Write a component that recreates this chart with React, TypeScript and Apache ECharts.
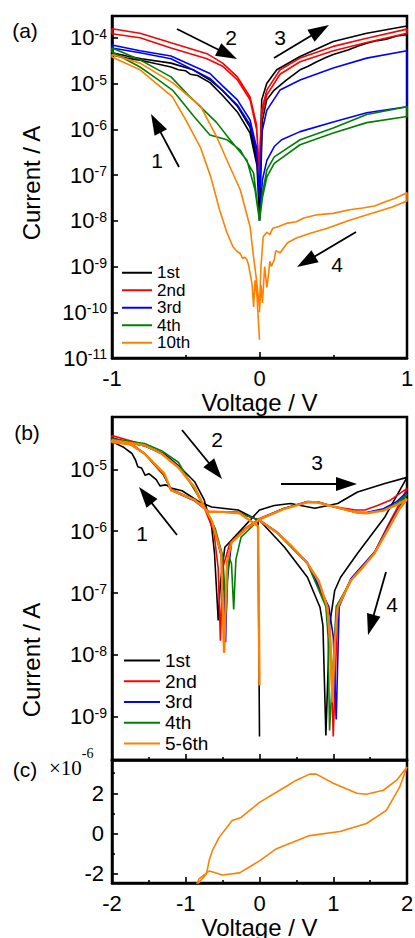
import React, { useEffect, useRef } from 'react';
import * as echarts from 'echarts';

const FONT = "'Liberation Sans', Arial, Helvetica, sans-serif";
const SERIF = "'Liberation Serif', 'Times New Roman', serif";

// ---------- Panel (a): voltage (V), current (A), in sweep order ----------
const a1st: [number, number][] = [
  [0, 1e-8], [-0.017, 1.6e-7], [-0.064, 8.3e-7], [-0.15, 2.4e-6], [-0.25, 5.5e-6], [-0.336, 1.05e-5],
  [-0.42, 1.5e-5], [-0.47, 1.6e-5], [-0.5, 1.9e-5], [-0.55, 2.0e-5], [-0.6, 2.3e-5], [-0.7, 2.7e-5],
  [-0.8, 3.2e-5], [-0.9, 3.6e-5], [-1, 4.2e-5],
  [-1, 4.7e-5], [-0.9, 4.0e-5], [-0.8, 3.5e-5], [-0.6, 2.8e-5], [-0.45, 2.0e-5], [-0.336, 1.2e-5],
  [-0.25, 7e-6], [-0.15, 3.2e-6], [-0.064, 1.1e-6], [-0.02, 2.5e-7], [0, 1.6e-8],
  [0.005, 3.2e-7], [0.015, 4.4e-6], [0.049, 1.0e-5], [0.117, 2.0e-5], [0.275, 3.9e-5], [0.5, 8.3e-5],
  [0.727, 1.26e-4], [1, 1.82e-4],
  [1, 1.17e-4], [0.93, 1.1e-4], [0.86, 9.3e-5], [0.8, 8.7e-5], [0.727, 7.6e-5], [0.67, 6.6e-5],
  [0.6, 5.4e-5], [0.5, 4.3e-5], [0.45, 3.7e-5], [0.388, 3.0e-5], [0.33, 2.4e-5], [0.275, 2.0e-5],
  [0.184, 1.2e-5], [0.1, 7.2e-6], [0.049, 4.4e-6], [0.02, 1.6e-6], [0, 1e-8],
];
const a2nd: [number, number][] = [
  [0, 1e-7], [-0.02, 1e-6], [-0.064, 4.4e-6], [-0.15, 1.2e-5], [-0.25, 2.4e-5], [-0.356, 3.5e-5],
  [-0.6, 6e-5], [-0.81, 1e-4], [-1, 1.23e-4],
  [-1, 1.58e-4], [-0.81, 1.26e-4], [-0.6, 7.8e-5], [-0.356, 4.5e-5], [-0.25, 2.8e-5], [-0.15, 1.4e-5],
  [-0.064, 5.1e-6], [-0.02, 1.26e-6], [0, 1e-7],
  [0.005, 4e-7], [0.015, 2.6e-6], [0.049, 7.2e-6], [0.139, 2.0e-5], [0.275, 3.6e-5], [0.5, 6.5e-5],
  [0.727, 9.8e-5], [1, 1.55e-4],
  [1, 1.26e-4], [0.727, 7.9e-5], [0.5, 5.2e-5], [0.275, 3.0e-5], [0.139, 1.6e-5], [0.049, 5.6e-6],
  [0.015, 2e-6], [0, 1e-7],
];
const a3rd: [number, number][] = [
  [0, 3.2e-8], [-0.02, 3.2e-7], [-0.064, 1.26e-6], [-0.15, 3.4e-6], [-0.25, 7e-6], [-0.336, 1.3e-5],
  [-0.6, 3.5e-5], [-0.81, 4.7e-5], [-1, 6e-5],
  [-1, 7e-5], [-0.81, 5.2e-5], [-0.6, 4e-5], [-0.336, 1.66e-5], [-0.25, 8.9e-6], [-0.15, 4.4e-6],
  [-0.064, 1.6e-6], [-0.02, 4e-7], [0, 3.2e-8],
  [0.005, 1e-7], [0.015, 8.3e-7], [0.049, 2.6e-6], [0.139, 7.2e-6], [0.275, 1.2e-5], [0.5, 2.2e-5],
  [0.727, 3.6e-5], [1, 5.2e-5],
  [1, 3.1e-6], [0.727, 2.3e-6], [0.5, 1.45e-6], [0.275, 8.9e-7], [0.15, 5.9e-7], [0.1, 4.2e-7],
  [0.05, 2.1e-7], [0.02, 7.9e-8], [0, 1e-8],
];
const a4th: [number, number][] = [
  [0, 1e-8], [-0.04, 1.1e-7], [-0.13, 3.5e-7], [-0.22, 5.9e-7], [-0.336, 7.5e-7], [-0.45, 2.0e-6],
  [-0.5, 3.2e-6], [-0.59, 7.2e-6], [-0.7, 1.3e-5], [-0.81, 2.3e-5], [-1, 4.9e-5],
  [-1, 6e-5], [-0.81, 3.3e-5], [-0.6, 1.4e-5], [-0.47, 5.1e-6], [-0.29, 1.4e-6], [-0.2, 5.9e-7],
  [-0.085, 2.1e-7], [-0.03, 4.7e-8], [0, 1e-8],
  [0.02, 4e-8], [0.05, 1.3e-7], [0.1, 2.5e-7], [0.275, 5.9e-7], [0.5, 1.07e-6], [0.727, 2.1e-6], [1, 3.1e-6],
  [1, 1.9e-6], [0.727, 1.4e-6], [0.5, 8.3e-7], [0.275, 4.6e-7], [0.1, 1.8e-7], [0.05, 9.1e-8],
  [0.02, 3.2e-8], [0, 1e-8],
];
const a10th: [number, number][] = [
  [0, 2.5e-11], [-0.017, 2.2e-10], [-0.03, 5e-10], [-0.04, 1.3e-10], [-0.05, 4e-10], [-0.064, 7.2e-10],
  [-0.075, 1.1e-9], [-0.085, 1.4e-9], [-0.1, 1.6e-9], [-0.115, 1.5e-9], [-0.13, 1.9e-9], [-0.15, 2.1e-9],
  [-0.18, 2.7e-9], [-0.22, 5.4e-9], [-0.27, 1.7e-8], [-0.33, 9e-8], [-0.4, 4e-7], [-0.5, 1.6e-6],
  [-0.59, 5.1e-6], [-0.81, 2e-5], [-1, 3.8e-5],
  [-1, 4.3e-5], [-0.81, 2.8e-5], [-0.59, 1.05e-5], [-0.4, 3.2e-6], [-0.29, 6.8e-7], [-0.2, 1.5e-7],
  [-0.13, 4.7e-8], [-0.064, 7.4e-9], [-0.04, 1.6e-9], [-0.02, 5e-10], [0, 1.3e-10],
  [0.01, 1e-9], [0.025, 4.5e-9], [0.05, 5.6e-9], [0.07, 5e-9], [0.09, 6.9e-9], [0.13, 7.5e-9],
  [0.19, 8.9e-9], [0.25, 9.5e-9], [0.3, 1.15e-8], [0.39, 1.35e-8], [0.5, 1.45e-8], [0.61, 1.74e-8],
  [0.7, 1.9e-8], [0.78, 2.1e-8], [0.84, 2.5e-8], [0.92, 3.1e-8], [1, 4.1e-8],
  [1, 2.7e-8], [0.9, 2.0e-8], [0.73, 1.35e-8], [0.6, 1.0e-8], [0.46, 6.9e-9], [0.35, 5.4e-9],
  [0.25, 4.2e-9], [0.19, 3.3e-9], [0.14, 2e-9], [0.11, 2.2e-9], [0.1, 1.4e-9], [0.08, 1e-9],
  [0.07, 1.3e-9], [0.06, 6.3e-10], [0.05, 3.5e-10], [0.035, 1e-9], [0.02, 1.6e-10], [0.01, 4e-10], [0, 1e-10],
];

// ---------- Panel (b): voltage (V), current (A) ----------
const b1st: [number, number][] = [
  [0, 4.8e-10], [-0.02, 1.5e-6], [-0.29, 2.2e-6], [-0.65, 2.45e-6], [-0.82, 3.0e-6], [-1.05, 4.5e-6],
  [-1.2, 5e-6], [-1.27, 5.6e-6], [-1.35, 5.4e-6], [-1.4, 6.8e-6], [-1.5, 8.5e-6], [-1.55, 8e-6],
  [-1.6, 1.05e-5], [-1.65, 1.1e-5], [-1.68, 1.4e-5], [-1.73, 1.8e-5], [-1.85, 2.3e-5], [-2, 2.8e-5],
  [-2, 3e-5], [-1.56, 2.4e-5], [-1.3, 1.8e-5], [-1.1, 1.15e-5], [-0.88, 6.3e-6], [-0.75, 3.2e-6],
  [-0.65, 1.2e-6], [-0.61, 4.4e-7], [-0.58, 1e-7], [-0.56, 3.6e-8], [-0.53, 1.5e-7], [-0.47, 5.5e-7],
  [-0.29, 9.3e-7], [0, 2.2e-6],
  [0.2, 2.6e-6], [0.42, 2.8e-6], [0.75, 2.35e-6], [1.06, 2.8e-6], [1.33, 4.3e-6], [1.7, 5.9e-6], [2, 7.4e-6],
  [1.7, 1.7e-6], [1.33, 4.4e-7], [1.1, 1.8e-7], [1.02, 1.1e-7], [0.95, 3e-8], [0.9, 5e-10], [0.86, 3e-8],
  [0.82, 5.9e-8], [0.65, 1.8e-7], [0.34, 5.5e-7], [0, 1.5e-6],
];
const b2nd: [number, number][] = [
  [0, 1.5e-6], [-0.29, 2.0e-6], [-0.69, 2.1e-6], [-0.88, 3.2e-6], [-1.2, 4.8e-6], [-1.3, 8e-6],
  [-1.56, 1.8e-5], [-1.74, 2.6e-5], [-2, 3.2e-5],
  [-2, 3.5e-5], [-1.8, 3.0e-5], [-1.56, 2.5e-5], [-1.33, 1.8e-5], [-1.1, 1.1e-5], [-0.88, 5e-6],
  [-0.75, 2.4e-6], [-0.62, 1e-6], [-0.56, 2.5e-7], [-0.53, 1.7e-8], [-0.5, 2.5e-7], [-0.4, 6.5e-7],
  [-0.2, 1.1e-6], [0, 1.6e-6],
  [0.32, 2.3e-6], [0.65, 2.9e-6], [0.8, 2.9e-6], [1, 2.5e-6], [1.3, 2.2e-6], [1.43, 2.2e-6],
  [1.6, 2.6e-6], [1.78, 3.2e-6], [2, 4.9e-6],
  [1.9, 2.8e-6], [1.75, 1.3e-6], [1.56, 4.6e-7], [1.24, 1.7e-7], [1.06, 6e-8], [1.0, 4.8e-10],
  [0.96, 2e-8], [0.92, 6e-8], [0.65, 3e-7], [0.245, 9.3e-7], [0, 1.5e-6],
];
const b3rd: [number, number][] = [
  [0, 1.5e-6], [-0.29, 2.0e-6], [-0.69, 2.05e-6], [-0.88, 3.1e-6], [-1.2, 4.6e-6], [-1.3, 8.5e-6],
  [-1.56, 1.8e-5], [-1.74, 2.5e-5], [-2, 3e-5],
  [-2, 3.2e-5], [-1.56, 2.4e-5], [-1.33, 1.8e-5], [-1.1, 1.1e-5], [-0.88, 5.1e-6], [-0.75, 2.5e-6],
  [-0.62, 1.2e-6], [-0.52, 4e-7], [-0.48, 1e-7], [-0.46, 1.6e-8], [-0.44, 1.5e-7], [-0.38, 6.5e-7],
  [-0.2, 1.05e-6], [0, 1.55e-6],
  [0.32, 2.3e-6], [0.65, 3.0e-6], [0.8, 2.95e-6], [1, 2.5e-6], [1.32, 2.0e-6], [1.45, 2.0e-6],
  [1.68, 2.3e-6], [1.86, 3e-6], [2, 4.3e-6],
  [1.9, 2.5e-6], [1.75, 1.2e-6], [1.56, 4.6e-7], [1.24, 1.7e-7], [1.08, 6e-8], [1.04, 9e-10],
  [1.0, 2e-8], [0.94, 6e-8], [0.65, 3.1e-7], [0.245, 9.5e-7], [0, 1.5e-6],
];
const b4th: [number, number][] = [
  [0, 1.5e-6], [-0.29, 2.0e-6], [-0.69, 2.05e-6], [-0.88, 3.2e-6], [-1.2, 4.7e-6], [-1.3, 8.2e-6],
  [-1.56, 1.8e-5], [-1.74, 2.5e-5], [-2, 3e-5],
  [-2, 3.1e-5], [-1.56, 2.6e-5], [-1.33, 2e-5], [-1.1, 1.3e-5], [-0.96, 6.6e-6], [-0.8, 3.2e-6],
  [-0.6, 1.1e-6], [-0.5, 4e-7], [-0.45, 5e-8], [-0.42, 4e-7], [-0.38, 3e-7], [-0.35, 5.4e-8],
  [-0.32, 3.5e-7], [-0.25, 8e-7], [0, 1.55e-6],
  [0.32, 2.3e-6], [0.65, 2.95e-6], [0.8, 2.9e-6], [1, 2.5e-6], [1.32, 2.0e-6], [1.45, 1.95e-6],
  [1.68, 2.2e-6], [1.86, 2.8e-6], [2, 4e-6],
  [1.9, 2.4e-6], [1.75, 1.15e-6], [1.56, 4.4e-7], [1.24, 1.6e-7], [1.04, 6e-8], [0.95, 6e-10],
  [0.93, 2e-8], [0.9, 6e-8], [0.65, 3e-7], [0.245, 9.3e-7], [0, 1.5e-6],
];
const b56th: [number, number][] = [
  [0, 3.2e-9], [-0.02, 1.2e-6], [-0.27, 1.95e-6], [-0.5, 2.05e-6], [-0.69, 2.05e-6], [-0.88, 3.2e-6],
  [-1.2, 4.6e-6], [-1.29, 8.5e-6], [-1.56, 1.8e-5], [-1.74, 2.5e-5], [-2, 2.75e-5],
  [-2, 2.95e-5], [-1.56, 2.45e-5], [-1.33, 1.8e-5], [-1.1, 1.07e-5], [-0.88, 5.1e-6], [-0.75, 2.45e-6],
  [-0.65, 1.5e-6], [-0.52, 4.4e-7], [-0.48, 1.07e-8], [-0.44, 3.2e-7], [-0.38, 6.5e-7], [-0.2, 1.05e-6],
  [0, 1.55e-6],
  [0.32, 2.25e-6], [0.65, 2.95e-6], [0.77, 2.95e-6], [1, 2.5e-6], [1.32, 2e-6], [1.45, 1.95e-6],
  [1.68, 2.15e-6], [1.86, 2.65e-6], [2, 3.3e-6],
  [1.9, 2.3e-6], [1.75, 1.1e-6], [1.56, 4.4e-7], [1.4, 2.6e-7], [1.24, 1.6e-7], [1.06, 5.9e-8],
  [1.02, 1.5e-8], [0.99, 1.7e-9], [0.96, 1.5e-8], [0.92, 5.9e-8], [0.8, 1.6e-7], [0.65, 3e-7],
  [0.45, 5.5e-7], [0.245, 9.3e-7], [0, 1.5e-6],
];

// ---------- Panel (c): voltage (V), current (A), linear ----------
const c56th: [number, number][] = [
  [-0.9, -3.0e-6], [-0.84, -2.5e-6], [-0.72, -2.0e-6], [-0.68, -1.3e-6], [-0.64, -0.85e-6],
  [-0.55, -0.2e-6], [-0.37, 0.65e-6], [-0.25, 0.8e-6], [-0.2, 0.95e-6], [0, 1.55e-6], [0.32, 2.25e-6],
  [0.5, 2.65e-6], [0.68, 2.95e-6], [0.77, 2.95e-6], [1.0, 2.5e-6], [1.32, 2.0e-6], [1.45, 1.95e-6],
  [1.68, 2.15e-6], [1.86, 2.65e-6], [2.0, 3.3e-6],
  [1.9, 2.3e-6], [1.72, 1.15e-6], [1.45, 0.5e-6], [1.09, 0.1e-6], [0.68, -0.1e-6], [0.23, -0.75e-6],
  [0, -1.35e-6], [-0.27, -1.95e-6], [-0.5, -2.05e-6], [-0.68, -1.85e-6], [-0.82, -2.25e-6], [-0.9, -2.9e-6],
];

const legendA = ['1st', '2nd', '3rd', '4th', '10th'];
const legendB = ['1st', '2nd', '3rd', '4th', '5-6th'];
const seriesColors = ['#000000', '#ff0000', '#0000ff', '#008000', '#ff8000'];
const xTicksA = { min: -1, max: 1, step: 1 };
const xTicksBC = { min: -2, max: 2, step: 1 };

function arrow(x1: number, y1: number, x2: number, y2: number) {
  const dx = x2 - x1, dy = y2 - y1;
  const len = Math.hypot(dx, dy);
  const ux = dx / len, uy = dy / len;
  const hl = 21, hw = 7;
  const bx = x2 - ux * hl, by = y2 - uy * hl;
  return [
    { type: 'line', shape: { x1, y1, x2: bx + ux * 2, y2: by + uy * 2 }, style: { stroke: '#000', lineWidth: 1.8 }, silent: true },
    {
      type: 'polygon',
      shape: { points: [[x2, y2], [bx - uy * hw, by + ux * hw], [bx + uy * hw, by - ux * hw]] },
      style: { fill: '#000' }, silent: true,
    },
  ];
}

function txt(x: number, y: number, text: string, size = 21, extra: any = {}) {
  return {
    type: 'text', x, y, silent: true, ...extra,
    style: { text, fontSize: size, fontFamily: FONT, fill: '#000', align: 'center', verticalAlign: 'middle' },
  };
}

const logFmt = (v: number) => {
  const e = Math.log10(v);
  const n = Math.round(e);
  if (Math.abs(e - n) > 0.02) return '';
  return `{b|10}{s|${n}}`;
};
const logRich = {
  b: { fontSize: 22, fontFamily: FONT, color: '#000' },
  s: { fontSize: 14, fontFamily: FONT, color: '#000', verticalAlign: 'top' },
};

const tickStyle = { color: '#000', width: 1.6 };
const axisLineStyle = { show: true, onZero: false, lineStyle: { color: '#000', width: 2.5 } };

function xAxis(grid: number, t: { min: number; max: number; step: number }, labels: boolean) {
  return {
    gridIndex: grid, type: 'value', min: t.min, max: t.max, interval: t.step,
    axisLine: axisLineStyle,
    axisTick: { show: true, inside: true, length: 6, lineStyle: tickStyle },
    minorTick: { show: true, splitNumber: 2, length: 3, lineStyle: tickStyle },
    splitLine: { show: false }, minorSplitLine: { show: false },
    axisLabel: { show: labels, fontSize: 22, color: '#000', fontFamily: FONT, margin: 9 },
    name: labels ? 'Voltage / V' : '', nameLocation: 'middle', nameGap: 32,
    nameTextStyle: { fontSize: 24, color: '#000', fontFamily: FONT },
  };
}

function logY(grid: number, min: number, max: number) {
  return {
    gridIndex: grid, type: 'log', logBase: 10, min, max,
    axisLine: axisLineStyle,
    axisTick: { show: true, inside: true, length: 6, lineStyle: tickStyle },
    splitLine: { show: false },
    axisLabel: { formatter: logFmt, rich: logRich, margin: 5, color: '#000' },
  };
}

export default function App() {
  const ref = useRef<HTMLDivElement>(null);
  useEffect(() => {
    const chart = echarts.init(ref.current!, null, { renderer: 'svg' });
    const aData = [a1st, a2nd, a3rd, a4th, a10th];
    const bData = [b1st, b2nd, b3rd, b4th, b56th];
    const series: any[] = [];
    aData.forEach((d, i) => series.push({
      type: 'line', name: legendA[i], xAxisIndex: 0, yAxisIndex: 0, data: d,
      showSymbol: false, symbol: 'none', color: seriesColors[i],
      lineStyle: { width: 1.6, color: seriesColors[i] }, silent: true,
    }));
    bData.forEach((d, i) => series.push({
      type: 'line', name: legendB[i], xAxisIndex: 1, yAxisIndex: 1, data: d,
      showSymbol: false, symbol: 'none', color: seriesColors[i],
      lineStyle: { width: i === 4 ? 2.4 : 1.6, color: seriesColors[i] }, silent: true,
    }));
    series.push({
      type: 'line', name: '5-6th', xAxisIndex: 2, yAxisIndex: 2, data: c56th,
      showSymbol: false, symbol: 'none', color: seriesColors[4],
      lineStyle: { width: 1.6, color: seriesColors[4] }, silent: true,
    });

    const gridBase = { show: true, borderColor: '#000', borderWidth: 2.5, containLabel: false, outerBoundsMode: 'none' };

    const option: any = {
      animation: false,
      backgroundColor: '#fff',
      grid: [
        { ...gridBase, left: 112, top: 16, width: 295, height: 342 },
        { ...gridBase, left: 112, top: 417, width: 295, height: 343 },
        { ...gridBase, left: 112, top: 760, width: 295, height: 123 },
      ],
      xAxis: [xAxis(0, xTicksA, true), xAxis(1, xTicksBC, false), xAxis(2, xTicksBC, true)],
      yAxis: [
        logY(0, 1e-11, 3e-4),
        logY(1, 2e-10, 7e-5),
        {
          gridIndex: 2, type: 'value', min: -2.45e-6, max: 3.65e-6, splitNumber: 3,
          axisLine: axisLineStyle,
          axisTick: { show: true, inside: true, length: 6, lineStyle: tickStyle },
          minorTick: { show: true, splitNumber: 2, length: 3, lineStyle: tickStyle },
          splitLine: { show: false }, minorSplitLine: { show: false },
          axisLabel: {
            fontSize: 22, color: '#000', fontFamily: FONT, margin: 8, showMinLabel: false, showMaxLabel: false,
            formatter: (v: number) => {
              const m = v * 1e6;
              return Math.abs(m - Math.round(m)) > 0.01 ? '' : String(Math.round(m));
            },
          },
        },
      ],
      legend: [
        {
          data: legendA, orient: 'vertical', left: 122, top: 264, itemGap: 0, itemWidth: 30, itemHeight: 2,
          icon: 'rect', padding: 0, selectedMode: false,
          textStyle: { fontSize: 17, lineHeight: 17.5, color: '#000', fontFamily: FONT },
        },
        {
          data: legendB, orient: 'vertical', left: 124, top: 650, itemGap: 0, itemWidth: 36, itemHeight: 2,
          icon: 'rect', padding: 0, selectedMode: false,
          textStyle: { fontSize: 19, lineHeight: 20.75, color: '#000', fontFamily: FONT },
        },
      ],
      graphic: {
        elements: [
          txt(25, 30, '(a)'),
          txt(27, 432, '(b)'),
          txt(25, 769, '(c)'),
          txt(31, 183, 'Current / A', 24, { rotation: Math.PI / 2 }),
          txt(31, 660, 'Current / A', 24, { rotation: Math.PI / 2 }),
          {
            type: 'text', x: 49, y: 762, silent: true,
            style: {
              text: '{a|×10}{s|-6}', align: 'left', verticalAlign: 'middle',
              rich: {
                a: { fontSize: 21, fontFamily: SERIF, fill: '#000', lineHeight: 32, verticalAlign: 'bottom' },
                s: { fontSize: 14, fontFamily: SERIF, fill: '#000', verticalAlign: 'top' },
              },
            },
          },
          // panel (a) sweep arrows
          ...arrow(177, 29, 237, 59), txt(231, 37, '2'),
          ...arrow(274, 58, 329, 25), txt(280, 37, '3'),
          ...arrow(179, 167, 151, 114), txt(157, 160, '1'),
          ...arrow(356, 232, 297, 267), txt(337, 264, '4'),
          // panel (b) sweep arrows
          ...arrow(177, 535, 139, 487), txt(142, 533, '1'),
          ...arrow(182, 430, 222, 479), txt(217, 439, '2'),
          ...arrow(281, 484, 357, 484), txt(317, 462, '3'),
          ...arrow(386, 572, 368, 635), txt(392, 604, '4'),
        ],
      },
      series,
    };
    chart.setOption(option);
    return () => chart.dispose();
  }, []);
  return (
    <div
      ref={ref}
      style={{ position: 'fixed', left: 0, top: 0, width: 415, height: 938, background: '#fff' }}
    />
  );
}
